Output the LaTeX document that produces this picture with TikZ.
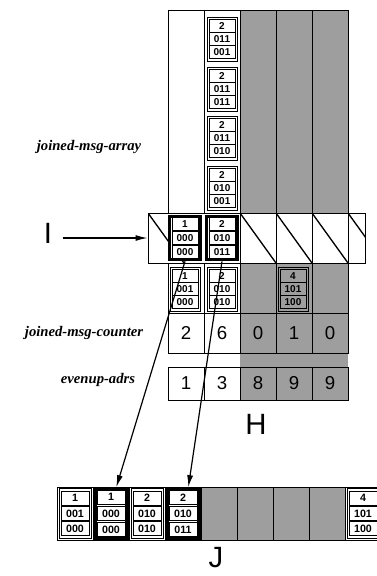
\documentclass[tikz,border=0pt]{standalone}
\usepackage{fontspec}
\setmainfont{Liberation Serif}
\setsansfont{Liberation Sans}
\usepackage{tikz}
\usetikzlibrary{arrows.meta,calc,positioning}

\definecolor{stip}{gray}{0.62}

% message box: [outer style] name, position, top, middle, bottom
\newcommand{\msgbox}[6][]{%
  \node[msg,#1] (#2) at (#3) {};
  \node[msgrow,anchor=north] (#2-a) at ([yshift=-2pt]#2.north) {#4};
  \node[msgrow] (#2-b) at (#2.center) {#5};
  \node[msgrow,anchor=south] (#2-c) at ([yshift=2pt]#2.south) {#6};
}

\begin{document}
\begin{tikzpicture}[x=0.75pt,y=-0.75pt,line width=0.7pt,
    msg/.style={draw,fill=white,minimum width=22.5pt,minimum height=33pt,inner sep=0pt},
    hot/.style={line width=2.5pt,minimum width=23pt,minimum height=32.5pt},
    ghost/.style={fill=none},
    msgrow/.style={draw,minimum width=19.5pt,minimum height=9.6pt,inner sep=0pt,
      font=\sffamily\bfseries\fontsize{7.5}{7.5}\selectfont},
    cell/.style={draw,minimum width=27pt,inner sep=0pt,font=\sffamily\fontsize{14}{14}\selectfont},
    lbl/.style={font=\bfseries\itshape\fontsize{11}{11}\selectfont},
    big/.style={inner sep=0pt,font=\sffamily\fontsize{22}{22}\selectfont},
    arrow/.style={line width=0.9pt,-{Latex[length=9pt,width=4.5pt]}}]
  \clip (0,0) rectangle (377,576);

  % H: stippled columns
  \fill[stip] (240,10) rectangle (348,313);
  \fill[stip] (240,353) rectangle (348,367);
  \draw (168,10) -- (348,10);
  \foreach \x in {168,204,240,276,312,348}
    \draw (\x,10) -- (\x,313);

  % joined-msg-array
  \msgbox{a1}{222,39}{2}{011}{001}
  \msgbox{a2}{222,89}{2}{011}{011}
  \msgbox{a3}{222,138}{2}{011}{010}
  \msgbox{a4}{222,188}{2}{010}{001}
  \msgbox{r1}{185,289}{1}{001}{000}
  \msgbox{r2}{222,289}{2}{010}{010}
  \msgbox[ghost]{r4}{293,289}{4}{101}{100}

  % I bar
  \node[draw,fill=white,minimum width=162.75pt,minimum height=37.5pt,inner sep=0pt] (bar) at (256.5,238) {};
  \begin{scope}
    \clip (148,213) rectangle (365,263);
    \foreach \x in {148,240,276,312,348}
      \draw[line width=1pt] (\x,213) -- ++(36,50);
  \end{scope}
  \foreach \x in {240,276,312,348}
    \draw (\x,213) -- (\x,263);
  \msgbox[hot]{bI1}{185,238}{1}{000}{000}
  \msgbox[hot]{bI2}{222,238}{2}{010}{011}
  \draw (168,313) -- (348,313);

  % counters and adresses
  \foreach \n/\v/\f in {1/2/white,2/6/white,3/0/stip,4/1/stip,5/0/stip}
    \node[cell,fill=\f,minimum height=30pt] (cnt\n) at (150+36*\n,333) {\v};
  \foreach \n/\v/\f in {1/1/white,2/3/white,3/8/stip,4/9/stip,5/9/stip}
    \node[cell,fill=\f,minimum height=24.75pt] (adr\n) at (150+36*\n,383.5) {\v};

  \node[lbl] (arraylbl) at (89,147) {joined-msg-array};
  \node[lbl] (cntlbl) at (84,333) {joined-msg-counter};
  \node[lbl] (adrlbl) at (98,380) {evenup-adrs};
  \node[big] (hlbl) at (256,424) {H};
  \node[big] (ilbl) at (48,233) {I};
  \draw[arrow] (ilbl.east |- bar.west) ++(10,0) -- (bar.west);

  % J
  \fill[stip] (201,487) rectangle (345,540);
  \draw (57,487) rectangle (400,540);
  \foreach \x in {93,129,165,201,237,273,309,345}
    \draw (\x,487) -- (\x,540);
  \begin{scope}[msg/.append style={minimum width=24pt,minimum height=37.5pt},
      hot/.append style={minimum width=24pt,minimum height=37pt},
      msgrow/.append style={minimum width=21pt,minimum height=10.5pt,font=\sffamily\bfseries\fontsize{8}{8}\selectfont}]
    \msgbox{jb1}{75,513.5}{1}{001}{000}
    \msgbox[hot]{jb2}{111,513.5}{1}{000}{000}
    \msgbox{jb3}{147,513.5}{2}{010}{010}
    \msgbox[hot]{jb4}{183,513.5}{2}{010}{011}
    \msgbox{jb5}{363,513.5}{4}{101}{100}
  \end{scope}
  \node[big] (jlbl) at (216,558) {J};

  \draw[arrow] (bI1.south) -- ([xshift=4pt]jb2.north);
  \draw[arrow] (bI2.south) -- ([xshift=4pt]jb4.north);
\end{tikzpicture}
\end{document}
